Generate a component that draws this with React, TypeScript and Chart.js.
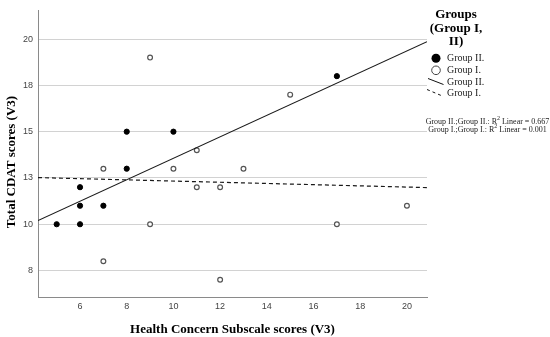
import React, { useEffect, useRef } from "react";
import { Chart, registerables } from "chart.js";

Chart.register(...registerables);

// Group II. (filled markers)
const groupIIx = [5, 6, 6, 6, 7, 8, 8, 10, 17];
const groupIIy = [10, 10, 11, 12, 11, 13, 15, 15, 18];
// Group I. (open markers)
const groupIx = [9, 15, 11, 7, 10, 13, 11, 12, 20, 9, 17, 7, 12];
const groupIy = [19, 17, 14, 13, 13, 13, 12, 12, 11, 10, 10, 8, 7];
// Fit lines (end points)
const fitIIx = [4.2, 20.86];
const fitIIy = [10.2, 19.86];
const fitIx = [4.2, 20.86];
const fitIy = [12.52, 11.98];

const yTitle = "Total CDAT scores (V3)";
const xTitle = "Health Concern Subscale scores (V3)";
const legendTitle = ["Groups", "(Group I,", "II)"];
const legendLabels = ["Group II.", "Group I.", "Group II.", "Group I."];
const r2Lines = [
  { pre: "Group II.;Group II.: R", post: " Linear = 0.667" },
  { pre: "Group I.;Group I.: R", post: " Linear = 0.001" },
];

const xMin = 4.2, xMax = 20.86, yMin = 6.07, yMax = 21.55;

const toPts = (xs: number[], ys: number[]) => xs.map((x, i) => ({ x, y: ys[i] }));

const SERIF = "'Liberation Serif', 'Times New Roman', serif";
const SANS = "'Liberation Sans', Arial, sans-serif";

const legendPlugin = {
  id: "customLegend",
  afterDraw(chart: any) {
    const ctx = chart.ctx as CanvasRenderingContext2D;
    ctx.save();
    // y axis title
    ctx.fillStyle = "#000";
    ctx.font = `bold 13px ${SERIF}`;
    ctx.textAlign = "center";
    ctx.textBaseline = "middle";
    ctx.save();
    ctx.translate(12, 162);
    ctx.rotate(-Math.PI / 2);
    ctx.fillText(yTitle, 0, 0);
    ctx.restore();

    // legend title
    const tY = [15, 28.5, 42];
    legendTitle.forEach((t, i) => ctx.fillText(t, 456, tY[i]));

    // markers
    const rows = [58.3, 70.3, 82, 93.7];
    ctx.fillStyle = "#000";
    ctx.beginPath();
    ctx.arc(436, rows[0], 4.5, 0, Math.PI * 2);
    ctx.fill();
    ctx.strokeStyle = "#444";
    ctx.lineWidth = 1;
    ctx.beginPath();
    ctx.arc(436, rows[1], 4.3, 0, Math.PI * 2);
    ctx.stroke();
    ctx.strokeStyle = "#111";
    ctx.beginPath();
    ctx.moveTo(428, 78.5);
    ctx.lineTo(443.5, 84.5);
    ctx.stroke();
    ctx.setLineDash([3, 3]);
    ctx.beginPath();
    ctx.moveTo(427, 89.5);
    ctx.lineTo(443.5, 96.5);
    ctx.stroke();
    ctx.setLineDash([]);

    ctx.font = `10px ${SERIF}`;
    ctx.textAlign = "left";
    ctx.fillStyle = "#222";
    legendLabels.forEach((t, i) => ctx.fillText(t, 447, rows[i]));

    // R^2 notes
    const cx = 487.5;
    const ys = [121.5, 129.5];
    r2Lines.forEach((ln, i) => {
      ctx.font = `8px ${SERIF}`;
      const wPre = ctx.measureText(ln.pre).width;
      const wPost = ctx.measureText(ln.post).width;
      ctx.font = `6px ${SERIF}`;
      const wSup = ctx.measureText("2").width;
      const total = wPre + wSup + wPost;
      let x = cx - total / 2;
      ctx.textAlign = "left";
      ctx.font = `8px ${SERIF}`;
      ctx.fillText(ln.pre, x, ys[i]);
      x += wPre;
      ctx.font = `6px ${SERIF}`;
      ctx.fillText("2", x, ys[i] - 3);
      x += wSup;
      ctx.font = `8px ${SERIF}`;
      ctx.fillText(ln.post, x, ys[i]);
    });
    ctx.restore();
  },
};

export default function App() {
  const ref = useRef<HTMLCanvasElement | null>(null);
  useEffect(() => {
    if (!ref.current) return;
    const chart = new Chart(ref.current, {
      type: "scatter",
      data: {
        datasets: [
          {
            label: "Group II. fit",
            data: toPts(fitIIx, fitIIy),
            showLine: true,
            borderColor: "#1a1a1a",
            borderWidth: 1.2,
            pointRadius: 0,
            fill: false,
          },
          {
            label: "Group I. fit",
            data: toPts(fitIx, fitIy),
            showLine: true,
            borderColor: "#1a1a1a",
            borderWidth: 1.2,
            borderDash: [4, 3],
            pointRadius: 0,
            fill: false,
          },
          {
            label: "Group II.",
            data: toPts(groupIIx, groupIIy),
            pointRadius: 2.6,
            pointBackgroundColor: "#000",
            pointBorderColor: "#000",
            pointBorderWidth: 1,
          },
          {
            label: "Group I.",
            data: toPts(groupIx, groupIy),
            pointRadius: 2.4,
            pointBackgroundColor: "#fff",
            pointBorderColor: "#555",
            pointBorderWidth: 1.2,
          },
        ],
      },
      options: {
        animation: false,
        responsive: true,
        maintainAspectRatio: false,
        layout: { padding: { left: 0, right: 123, top: 4, bottom: 0 } },
        plugins: { legend: { display: false }, tooltip: { enabled: false } },
        scales: {
          x: {
            type: "linear",
            min: xMin,
            max: xMax,
            afterFit: (s: any) => { s.height = 40; },
            ticks: {
              stepSize: 2,
              includeBounds: false,
              padding: 4,
              color: "#444",
              font: { family: SANS, size: 9 },
              maxRotation: 0,
            },
            grid: { display: false, drawTicks: false },
            border: { display: true, color: "#8a8a8a", width: 1 },
            title: {
              display: true,
              text: xTitle,
              color: "#000",
              font: { family: SERIF, size: 13, weight: "bold" },
              padding: { top: 6, bottom: 0 },
            },
          },
          y: {
            type: "linear",
            min: yMin,
            max: yMax,
            afterFit: (s: any) => { s.width = 38; },
            ticks: {
              stepSize: 2.5,
              includeBounds: false,
              padding: 5,
              color: "#444",
              font: { family: SANS, size: 9 },
              callback: (v: any) => String(Math.round(Number(v))),
            },
            grid: { display: true, color: "#d2d2d2", lineWidth: 1, drawTicks: false },
            border: { display: true, color: "#8a8a8a", width: 1 },
            title: { display: false },
          },
        },
      },
      plugins: [legendPlugin],
    });
    return () => chart.destroy();
  }, []);
  return (
    <div style={{ position: "absolute", left: 0, top: 0, width: 550, height: 337, background: "#fff" }}>
      <canvas ref={ref} />
    </div>
  );
}
